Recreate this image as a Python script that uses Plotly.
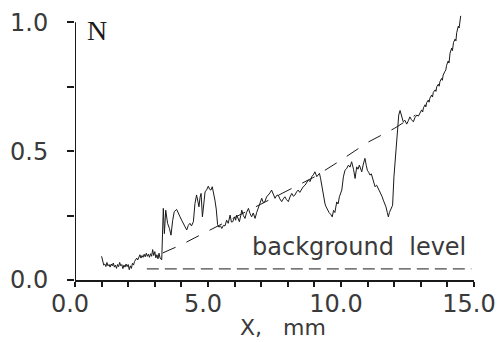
import plotly.graph_objects as go

# ---- data ----
pos_mm = [1.00, 1.04, 1.08, 1.12, 1.16, 1.20, 1.24, 1.28, 1.32, 1.36, 1.40, 1.44, 1.48, 1.52, 1.56, 1.60,
          1.64, 1.68, 1.72, 1.76, 1.80, 1.84, 1.88, 1.92, 1.96, 2.00, 2.04, 2.08, 2.12, 2.16, 2.20, 2.24,
          2.28, 2.32, 2.36, 2.40, 2.44, 2.48, 2.52, 2.56, 2.60, 2.64, 2.68, 2.72, 2.76, 2.80, 2.84, 2.88,
          2.92, 2.96, 3.00, 3.04, 3.08, 3.12, 3.16, 3.20, 3.26, 3.32, 3.36,
          3.41, 3.48, 3.55, 3.61, 3.67, 3.73, 3.82, 3.88, 3.95, 4.01, 4.07, 4.13, 4.20, 4.26, 4.32, 4.38,
          4.45, 4.51, 4.57, 4.62, 4.66, 4.70, 4.74, 4.79, 4.84, 4.89, 4.95, 5.01, 5.06, 5.11, 5.16, 5.21,
          5.26, 5.31, 5.36, 5.41, 5.47, 5.52, 5.58, 5.64, 5.70, 5.76, 5.83, 5.88, 5.93, 6.00, 6.04, 6.08,
          6.13, 6.18, 6.23, 6.27, 6.33, 6.39, 6.45, 6.52, 6.58, 6.64, 6.70, 6.77, 6.83, 6.89, 6.95, 7.02,
          7.08, 7.14, 7.20, 7.27, 7.33, 7.39, 7.45, 7.52, 7.58, 7.64, 7.70, 7.77, 7.83, 7.89, 7.95, 8.02,
          8.08, 8.15, 8.21, 8.27, 8.33, 8.39, 8.45, 8.52, 8.58, 8.65, 8.71, 8.77, 8.84, 8.90, 8.96, 9.02,
          9.09, 9.14, 9.19, 9.23, 9.27, 9.34, 9.40, 9.44, 9.50, 9.55, 9.61, 9.67, 9.72, 9.77, 9.84, 9.89,
          9.94, 10.03, 10.09,
          10.15, 10.21, 10.28, 10.34, 10.40, 10.47, 10.53, 10.59, 10.64, 10.69, 10.74, 10.78, 10.84, 10.90,
          10.95, 10.99, 11.04, 11.09, 11.14, 11.19, 11.24, 11.28, 11.34, 11.40, 11.45, 11.49, 11.54, 11.59,
          11.64, 11.69, 11.74, 11.78, 11.82, 11.86, 11.90, 11.94, 11.99, 12.07, 12.13, 12.17, 12.22, 12.27,
          12.34, 12.40, 12.47, 12.53, 12.59, 12.65, 12.72, 12.78, 12.85, 12.91, 12.97, 13.03, 13.07, 13.10,
          13.16, 13.19, 13.22, 13.28, 13.31, 13.34, 13.41, 13.44, 13.47, 13.54, 13.57, 13.60, 13.66, 13.69,
          13.72, 13.78, 13.81, 13.84, 13.90, 13.94, 13.97, 14.03, 14.06, 14.10, 14.16, 14.19, 14.23, 14.29,
          14.32, 14.35, 14.41, 14.44, 14.50]
n_signal = [0.092, 0.078, 0.058, 0.062, 0.052, 0.068, 0.055, 0.060, 0.050, 0.062, 0.055, 0.066, 0.050, 0.058, 0.045, 0.060,
            0.052, 0.068, 0.055, 0.060, 0.044, 0.058, 0.050, 0.062, 0.052, 0.060, 0.040, 0.055, 0.045, 0.065, 0.058, 0.072,
            0.080, 0.085, 0.078, 0.092, 0.098, 0.085, 0.095, 0.088, 0.100, 0.090, 0.104, 0.092, 0.100, 0.088, 0.102, 0.092,
            0.118, 0.095, 0.110, 0.086, 0.098, 0.082, 0.104, 0.085, 0.078, 0.278, 0.180,
            0.271, 0.220, 0.200, 0.174, 0.230, 0.265, 0.274, 0.258, 0.245, 0.232, 0.220, 0.205, 0.194, 0.212, 0.220, 0.210,
            0.226, 0.297, 0.330, 0.305, 0.284, 0.320, 0.336, 0.245, 0.300, 0.342, 0.350, 0.364, 0.352, 0.349, 0.362, 0.340,
            0.310, 0.275, 0.215, 0.205, 0.210, 0.200, 0.212, 0.210, 0.232, 0.220, 0.252, 0.225, 0.226, 0.245, 0.232, 0.252,
            0.238, 0.226, 0.250, 0.271, 0.250, 0.239, 0.262, 0.278, 0.258, 0.245, 0.260, 0.239, 0.262, 0.278, 0.295, 0.317,
            0.300, 0.304, 0.322, 0.330, 0.338, 0.349, 0.332, 0.317, 0.328, 0.330, 0.315, 0.304, 0.315, 0.323, 0.312, 0.304,
            0.322, 0.336, 0.325, 0.330, 0.342, 0.349, 0.340, 0.355, 0.362, 0.368, 0.378, 0.388, 0.382, 0.401, 0.408, 0.420,
            0.401, 0.410, 0.414, 0.395, 0.368, 0.317, 0.295, 0.284, 0.270, 0.262, 0.255, 0.245, 0.270, 0.262, 0.303, 0.295,
            0.323, 0.349, 0.400,
            0.426, 0.432, 0.446, 0.438, 0.459, 0.430, 0.394, 0.439, 0.430, 0.446, 0.432, 0.420, 0.450, 0.472,
            0.445, 0.426, 0.418, 0.407, 0.412, 0.394, 0.380, 0.362, 0.368, 0.355, 0.348, 0.342, 0.325, 0.310,
            0.298, 0.284, 0.262, 0.245, 0.262, 0.271, 0.280, 0.290, 0.400, 0.504, 0.607, 0.640, 0.658, 0.640,
            0.614, 0.620, 0.605, 0.618, 0.633, 0.622, 0.614, 0.630, 0.640, 0.636, 0.648, 0.660, 0.652, 0.668,
            0.680, 0.672, 0.688, 0.698, 0.690, 0.705, 0.718, 0.710, 0.728, 0.738, 0.732, 0.750, 0.760, 0.752,
            0.770, 0.782, 0.775, 0.795, 0.808, 0.815, 0.833, 0.850, 0.842, 0.880, 0.900, 0.890, 0.922, 0.935,
            0.928, 0.960, 0.985, 0.978, 1.025]

trend_x = [3.3, 4.0, 5.0, 6.0, 7.0, 8.0, 9.0, 10.0, 11.0, 12.0, 12.8]
trend_y = [0.105, 0.137, 0.190, 0.243, 0.296, 0.349, 0.400, 0.465, 0.534, 0.588, 0.640]

bg_x = [2.7, 14.9]
bg_y = [0.043, 0.043]

x_ticks = [0, 1, 2, 3, 4, 5, 6, 7, 8, 9, 10, 11, 12, 13, 14, 15]
x_labels = ["0.0", "", "", "", "", "5.0", "", "", "", "", "10.0", "", "", "", "", "15.0"]
y_ticks = [0, 0.25, 0.5, 0.75, 1.0]
y_labels = ["0.0", "", "0.5", "", "1.0"]

SANS = "DejaVu Sans"
INK = "#1a1a1a"
TXT = "#3a3a3a"

fig = go.Figure()
fig.add_trace(go.Scatter(x=bg_x, y=bg_y, mode="lines",
                         line=dict(color=INK, width=1, dash="12px,6px"), hoverinfo="skip"))
fig.add_trace(go.Scatter(x=trend_x, y=trend_y, mode="lines",
                         line=dict(color=INK, width=1, dash="14px,12px"), hoverinfo="skip"))
fig.add_trace(go.Scatter(x=pos_mm, y=n_signal, mode="lines",
                         line=dict(color=INK, width=1), hoverinfo="skip"))

fig.update_layout(
    width=499, height=342,
    margin=dict(l=75, r=25, t=12, b=62, autoexpand=False),
    paper_bgcolor="white", plot_bgcolor="white",
    showlegend=False,
    font=dict(family=SANS, size=24, color=TXT),
    xaxis=dict(range=[0, 15], tickvals=x_ticks, ticktext=x_labels, automargin=False,
               showgrid=False, zeroline=False, showline=True, linecolor=INK, linewidth=2,
               ticks="outside", ticklen=5, tickwidth=1.5, tickcolor=INK,
               ticklabelshift=-5, ticklabelstandoff=-4,
               tickfont=dict(family=SANS, size=24, color=TXT)),
    yaxis=dict(range=[0, 1.04], tickvals=y_ticks, ticktext=y_labels, automargin=False,
               showgrid=False, zeroline=False, showline=False,
               ticks="outside", ticklen=7, tickwidth=1.5, tickcolor=INK,
               ticklabelstandoff=14,
               tickfont=dict(family=SANS, size=24, color=TXT)),
    shapes=[dict(type="line", xref="x", yref="y", x0=0, x1=0, y0=0, y1=1.0,
                 line=dict(color=INK, width=2), layer="above")],
    annotations=[
        dict(text="N", x=0.83, y=0.969, xref="x", yref="y", showarrow=False,
             xanchor="center", yanchor="middle",
             font=dict(family="Liberation Serif", size=28, color=INK)),
        dict(text="background\u00a0\u00a0level", x=10.68, y=0.128, xref="x", yref="y", showarrow=False,
             xanchor="center", yanchor="middle",
             font=dict(family=SANS, size=24, color=TXT)),
        dict(text="X,\u00a0\u00a0\u00a0mm", x=7.82, y=-0.2313, xref="x", yref="paper", showarrow=False,
             xanchor="center", yanchor="bottom",
             font=dict(family=SANS, size=22, color=TXT)),
    ],
)

fig.write_html("out.html", config={"displayModeBar": False},
               post_script="document.body.style.margin='0';document.body.style.overflow='hidden';")
